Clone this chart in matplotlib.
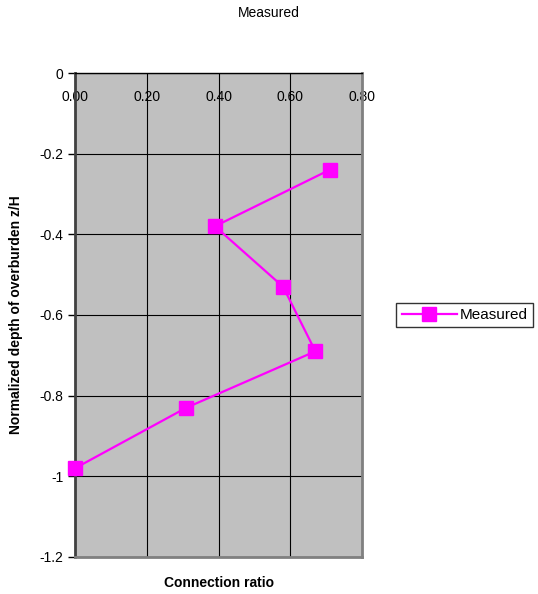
import matplotlib
matplotlib.use('Agg')
import matplotlib.pyplot as plt
import numpy as np

plt.rcParams['font.family'] = ['Liberation Sans', 'DejaVu Sans']

# connection ratio vs normalized depth
connection_ratio = [0.71, 0.39, 0.58, 0.67, 0.31, 0.00]
depth_ratio = [-0.24, -0.38, -0.53, -0.69, -0.83, -0.98]
x_ticks = [0.0, 0.2, 0.4, 0.6, 0.8]
y_ticks = [0, -0.2, -0.4, -0.6, -0.8, -1.0, -1.2]
y_tick_labels = ['0', '-0.2', '-0.4', '-0.6', '-0.8', '-1', '-1.2']

fig = plt.figure(figsize=(5.38, 5.94), dpi=100)
ax = fig.add_axes([0.1394, 0.0623, 0.5335, 0.8148])
ax.set_facecolor('#C0C0C0')

ax.plot(connection_ratio, depth_ratio, color='#FF00FF', lw=1.6,
		marker='s', markersize=10, label='Measured', clip_on=False, zorder=3)

ax.set_xlim(0, 0.8)
ax.set_ylim(-1.2, 0)
ax.set_xticks(x_ticks)
ax.set_xticklabels([f'{v:.2f}' for v in x_ticks])
ax.set_yticks(y_ticks)
ax.set_yticklabels(y_tick_labels)
ax.grid(True, color='black', lw=0.8)
ax.set_axisbelow(True)

# x labels sit inside the plot just under the top edge
ax.tick_params(axis='x', top=True, labeltop=True, bottom=False, labelbottom=False,
			   direction='in', length=0, pad=-22, labelsize=10)
ax.tick_params(axis='y', direction='out', length=5, labelsize=10, width=1)

ax.spines['top'].set_color('black')
ax.spines['top'].set_linewidth(1)
ax.spines['left'].set_color('#404040')
ax.spines['left'].set_linewidth(2)
for side in ('right', 'bottom'):
	ax.spines[side].set_color('#808080')
	ax.spines[side].set_linewidth(2)

ax.set_ylabel('Normalized depth of overburden z/H', fontsize=10, fontweight='bold', labelpad=12)
ax.set_xlabel('Connection ratio', fontsize=10, fontweight='bold', labelpad=14)
ax.xaxis.set_label_position('bottom')

fig.text(0.5, 0.978, 'Measured', ha='center', va='center', fontsize=10)

leg = ax.legend(loc='center left', bbox_to_anchor=(1.12, 0.5), frameon=True,
				fancybox=False, fontsize=11, handlelength=3.6, borderpad=0.35,
				handletextpad=0.2, borderaxespad=0)
leg.get_frame().set_edgecolor('black')
leg.get_frame().set_linewidth(1)

fig.savefig('out.png', dpi=100)
